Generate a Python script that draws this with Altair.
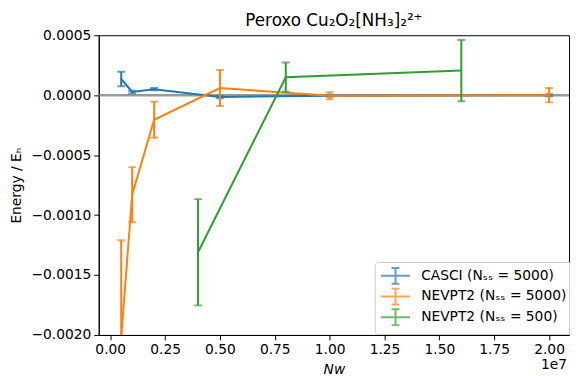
import altair as alt
import pandas as pd

series_names = ["CASCI (Nₛₛ = 5000)", "NEVPT2 (Nₛₛ = 5000)", "NEVPT2 (Nₛₛ = 500)"]
series_colors = ["#1f77b4", "#ff7f0e", "#2ca02c"]

casci_N = [5e5, 1e6, 2e6, 5e6, 1e7, 2e7]
casci_E = [0.000135, 0.000027, 0.00005, -0.000015, -0.000005, 0.0]
casci_err = [0.00006, 0.00001, 0.00001, 0.00001, 0.000008, 0.000008]

nev5000_N = [5e5, 1e6, 2e6, 5e6, 1e7, 2e7]
nev5000_E = [-0.00202, -0.00083, -0.000205, 0.00006, -0.000005, 0.0]
nev5000_err = [0.00081, 0.00023, 0.00015, 0.00015, 0.00003, 0.00006]

nev500_N = [4e6, 8e6, 1.6e7]
nev500_E = [-0.00131, 0.00015, 0.000205]
nev500_err = [0.000443, 0.000122, 0.000255]

x_ticks = [0, 2.5e6, 5e6, 7.5e6, 1e7, 1.25e7, 1.5e7, 1.75e7, 2e7]
y_ticks = [-0.002, -0.0015, -0.001, -0.0005, 0.0, 0.0005]
offset_label = ["1e7"]
title_text = "Peroxo Cu₂O₂[NH₃]₂²⁺"

rows = []
for name, Ns, Es, errs in [
    (series_names[0], casci_N, casci_E, casci_err),
    (series_names[1], nev5000_N, nev5000_E, nev5000_err),
    (series_names[2], nev500_N, nev500_E, nev500_err),
]:
    for n, e, d in zip(Ns, Es, errs):
        rows.append({"series": name, "N": n, "E": e, "lo": e - d, "hi": e + d})
df = pd.DataFrame(rows)

W, H = 477, 304

xscale = alt.Scale(domain=[-525000, 20910000], nice=False, zero=False)
yscale = alt.Scale(domain=[-0.002, 0.0005], nice=False, zero=False)

xenc = alt.X("N:Q", scale=xscale,
             axis=alt.Axis(values=x_ticks, labelExpr="format(datum.value/1e7, '.2f')",
                           title="Nw", titleFontStyle="italic", titlePadding=6))
yaxis = alt.Axis(values=y_ticks, format=".4f", title="Energy / Eₕ", titlePadding=8)

color = alt.Color("series:N",
                  scale=alt.Scale(domain=series_names, range=series_colors),
                  legend=alt.Legend(
                      title=None, orient="none", legendX=280, legendY=230, padding=5,
                      strokeColor="#cccccc", fillColor="rgba(255,255,255,0.8)",
                      cornerRadius=3, labelFontSize=14, labelFont="DejaVu Sans",
                      labelColor="black",
                      symbolType="M-1.85,0H1.85M0,-1V1M-0.5,-1H0.5M-0.5,1H0.5",
                      symbolSize=256, symbolStrokeWidth=2, symbolFillColor="transparent",
                      symbolOffset=7, labelOffset=17, rowPadding=-3))

base = alt.Chart(df)

zero = alt.Chart(pd.DataFrame({"z": [0.0]})).mark_rule(color="gray", strokeWidth=2.5, opacity=0.8).encode(
    y=alt.Y("z:Q", scale=yscale, axis=yaxis)
)

layers = [zero]
for name in series_names:
    b = base.transform_filter(alt.datum.series == name)
    layers.append(b.mark_line(strokeWidth=2, clip=True).encode(x=xenc, y=alt.Y("E:Q", scale=yscale, axis=yaxis), color=color))
    layers.append(b.mark_rule(strokeWidth=2, clip=True).encode(x="N:Q", y="lo:Q", y2="hi:Q", color=color))
    layers.append(b.mark_tick(orient="horizontal", size=8, thickness=2, clip=True).encode(x="N:Q", y="lo:Q", color=color))
    layers.append(b.mark_tick(orient="horizontal", size=8, thickness=2, clip=True).encode(x="N:Q", y="hi:Q", color=color))

offset_text = alt.Chart(pd.DataFrame({"t": offset_label})).mark_text(
    align="right", baseline="top", fontSize=14, font="DejaVu Sans", color="black"
).encode(text="t:N", x=alt.value(W - 2), y=alt.value(H + 24))
layers.append(offset_text)

chart = alt.layer(*layers).properties(
    width=W, height=H, background="white",
    title=alt.TitleParams(title_text, fontSize=17, font="DejaVu Sans", fontWeight="normal", offset=-2, color="black"),
    autosize=alt.AutoSizeParams(type="none"),
    padding={"left": 92, "top": 25, "right": 2, "bottom": 40},
).configure_view(stroke="black", strokeWidth=1).configure_axis(
    grid=False, domainColor="black", tickColor="black", tickSize=5,
    labelFont="DejaVu Sans", labelFontSize=14, labelColor="black",
    titleFont="DejaVu Sans", titleFontSize=14, titleFontWeight="normal", titleColor="black",
    labelPadding=3, labelFlush=False, labelOverlap=False,
)

chart.save("out.html", embed_options={"renderer": "svg", "actions": False})
